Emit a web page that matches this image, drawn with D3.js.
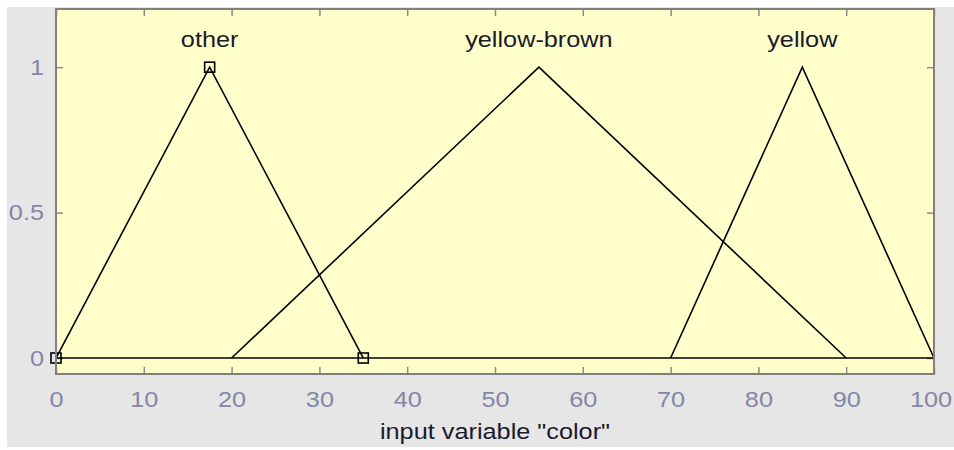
<!DOCTYPE html>
<html>
<head>
<meta charset="utf-8">
<script src="https://cdn.jsdelivr.net/npm/d3@7"></script>
<style>
  body { margin: 0; background: #fff; }
  svg text { font-family: "Liberation Sans", Arial, sans-serif; }
</style>
</head>
<body>
<div id="chart"></div>
<script>
// membership functions (trimf params)
var mfNames = ['other', 'yellow-brown', 'yellow'];
var mfParams = [[0, 17.5, 35], [20, 55, 90], [70, 85, 100]];
var selectedMf = 0;
var xTicks = [0, 10, 20, 30, 40, 50, 60, 70, 80, 90, 100];
var yTicks = [0, 0.5, 1];
var xLabel = 'input variable "color"';

var width = 954, height = 450;
var padding = {top: 9, right: 20, bottom: 76, left: 56};
var fontSize = 22, stretch = 1.15; // text in the screenshot is a bit wide

var svg = d3.select('#chart').append('svg')
  .attr('width', width)
  .attr('height', height);

// figure background
svg.append('rect')
  .attr('x', 7).attr('y', 7)
  .attr('width', width - 7).attr('height', height - 10)
  .attr('fill', '#e6e6e6');

var xScale = d3.scaleLinear()
  .domain([0, 100])
  .range([padding.left, width - padding.right]);

var yScale = d3.scaleLinear()
  .domain([-0.055, 1.2])
  .range([height - padding.bottom, padding.top]);

var x0 = xScale.range()[0], x1 = xScale.range()[1];
var y0 = yScale.range()[0], y1 = yScale.range()[1];

// axes background
svg.append('rect')
  .attr('x', x0).attr('y', y1)
  .attr('width', x1 - x0).attr('height', y0 - y1)
  .attr('fill', '#ffffcc');

// axes: bottom / left with labels, top / right ticks only (box)
var tickLen = 7;
var xAxis = d3.axisBottom(xScale).tickValues(xTicks).tickSizeInner(-tickLen).tickSizeOuter(0).tickPadding(17);
var yAxis = d3.axisLeft(yScale).tickValues(yTicks).tickSizeInner(-tickLen).tickSizeOuter(0).tickPadding(12)
  .tickFormat(d3.format('~g'));
var xAxisTop = d3.axisTop(xScale).tickValues(xTicks).tickSizeInner(-tickLen).tickSizeOuter(0).tickFormat('');
var yAxisRight = d3.axisRight(yScale).tickValues(yTicks).tickSizeInner(-tickLen).tickSizeOuter(0).tickFormat('');

function styleAxis(g) {
  g.selectAll('.domain').remove();
  g.selectAll('line').attr('stroke', '#8a8a8a').attr('stroke-width', 1.5);
  g.selectAll('text')
    .attr('fill', '#8585a8')
    .attr('font-size', fontSize)
    .attr('transform', 'scale(' + stretch + ',1)')
    .attr('x', function(){ return +d3.select(this).attr('x') / stretch; });
}

var gx = svg.append('g').attr('transform', 'translate(0,' + y0 + ')').call(xAxis).call(styleAxis);
// keep the last label inside the window
gx.selectAll('.tick text').filter(function(d){ return d === 100; }).attr('x', -3);
svg.append('g').attr('transform', 'translate(' + x0 + ',0)').call(yAxis).call(styleAxis);
svg.append('g').attr('transform', 'translate(0,' + y1 + ')').call(xAxisTop).call(styleAxis);
svg.append('g').attr('transform', 'translate(' + x1 + ',0)').call(yAxisRight).call(styleAxis);

// zero line
svg.append('line')
  .attr('x1', xScale(0)).attr('x2', xScale(100))
  .attr('y1', yScale(0)).attr('y2', yScale(0))
  .attr('stroke', 'black').attr('stroke-width', 1.6);

var line = d3.line()
  .x(function(d){ return xScale(d.x); })
  .y(function(d){ return yScale(d.y); });

function label(x, y, txt) {
  svg.append('text')
    .attr('transform', 'translate(' + x + ',' + y + ') scale(' + stretch + ',1)')
    .attr('text-anchor', 'middle')
    .attr('font-size', fontSize)
    .attr('fill', '#1a1a2a')
    .text(txt);
}

mfParams.forEach(function(p, i){
  var pts = [{x: p[0], y: 0}, {x: p[1], y: 1}, {x: p[2], y: 0}];
  svg.append('path')
    .attr('d', line(pts))
    .attr('fill', 'none')
    .attr('stroke', 'black')
    .attr('stroke-width', 1.6);

  label(xScale(p[1]), yScale(1.07), mfNames[i]);

  if (i === selectedMf) {
    svg.selectAll(null)
      .data(pts)
      .enter().append('rect')
      .attr('x', function(d){ return xScale(d.x) - 5; })
      .attr('y', function(d){ return yScale(d.y) - 5; })
      .attr('width', 10).attr('height', 10)
      .attr('fill', 'none')
      .attr('stroke', 'black')
      .attr('stroke-width', 1.6);
  }
});

// box border
svg.append('rect')
  .attr('x', x0).attr('y', y1)
  .attr('width', x1 - x0).attr('height', y0 - y1)
  .attr('fill', 'none')
  .attr('stroke', '#808080')
  .attr('stroke-width', 2);

// x label
label((x0 + x1) / 2, 439, xLabel);
</script>
</body>
</html>
